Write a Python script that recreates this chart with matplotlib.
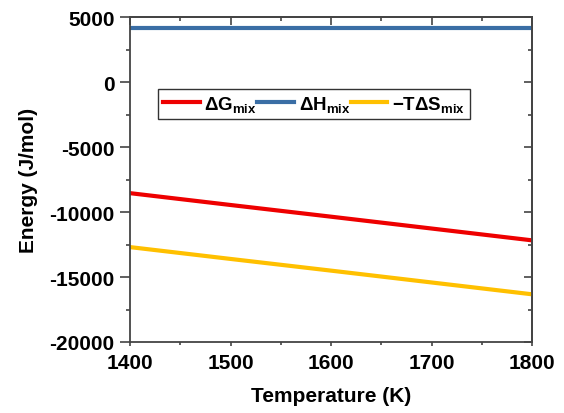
import matplotlib
matplotlib.use("Agg")
import matplotlib.pyplot as plt
from matplotlib.ticker import MultipleLocator, NullFormatter

plt.rcParams['font.family'] = ['Liberation Sans', 'DejaVu Sans']
plt.rcParams['font.weight'] = 'bold'
plt.rcParams['axes.unicode_minus'] = False
plt.rcParams['mathtext.fontset'] = 'custom'
plt.rcParams['mathtext.rm'] = 'Liberation Sans:bold'
plt.rcParams['mathtext.it'] = 'Liberation Sans:bold'
plt.rcParams['mathtext.bf'] = 'Liberation Sans:bold'

# temperature (K)
temps = [1400, 1500, 1600, 1700, 1800]
# energies (J/mol)
dG_mix = [-8550, -9460, -10360, -11270, -12180]
dH_mix = [4150, 4150, 4150, 4150, 4150]
TdS_mix = [-12700, -13610, -14510, -15420, -16330]

spine_col = '#444444'

fig = plt.figure(figsize=(5.64, 4.14), dpi=100)
ax = fig.add_axes([0.2305, 0.1715, 0.7128, 0.785])

ax.plot(temps, dG_mix, color='#ee0000', lw=3, label=r'ΔG$_{\mathrm{mix}}$')
ax.plot(temps, dH_mix, color='#3a6ea5', lw=3, label=r'ΔH$_{\mathrm{mix}}$')
ax.plot(temps, TdS_mix, color='#ffc000', lw=3, label=r'−TΔS$_{\mathrm{mix}}$')

ax.set_xlim(1400, 1800)
ax.set_ylim(-20000, 5000)
ax.xaxis.set_major_locator(MultipleLocator(100))
ax.xaxis.set_minor_locator(MultipleLocator(50))
ax.yaxis.set_major_locator(MultipleLocator(5000))
ax.yaxis.set_minor_locator(MultipleLocator(2500))

# bottom / left ticks point outward
ax.tick_params(axis='x', which='major', direction='out', length=3, width=1.2,
               color=spine_col, labelsize=15, pad=5)
ax.tick_params(axis='x', which='minor', direction='out', length=2, width=1.2, color=spine_col)
ax.tick_params(axis='y', which='major', direction='out', length=7, width=1.2,
               color=spine_col, labelsize=15, pad=4)
ax.tick_params(axis='y', which='minor', direction='out', length=3, width=1.2, color=spine_col)

# top / right ticks point inward
top = ax.secondary_xaxis('top')
top.xaxis.set_major_locator(MultipleLocator(100))
top.xaxis.set_minor_locator(MultipleLocator(50))
top.xaxis.set_major_formatter(NullFormatter())
top.tick_params(which='major', direction='in', length=6, width=1.2, color=spine_col)
top.tick_params(which='minor', direction='in', length=3, width=1.2, color=spine_col)
right = ax.secondary_yaxis('right')
right.yaxis.set_major_locator(MultipleLocator(5000))
right.yaxis.set_minor_locator(MultipleLocator(2500))
right.yaxis.set_major_formatter(NullFormatter())
right.tick_params(which='major', direction='in', length=6, width=1.2, color=spine_col)
right.tick_params(which='minor', direction='in', length=3, width=1.2, color=spine_col)
for a in (ax, top, right):
    for s in a.spines.values():
        s.set_linewidth(1.3)
        s.set_color(spine_col)

ax.set_xlabel('Temperature (K)', fontsize=15, fontweight='bold', labelpad=10)
ax.set_ylabel('Energy (J/mol)', fontsize=15, fontweight='bold', labelpad=8)

leg = ax.legend(loc='upper left', bbox_to_anchor=(0.07, 0.778), ncol=3,
                frameon=True, fancybox=False, edgecolor='black', handlelength=1.97,
                handletextpad=0.25, columnspacing=0.0, borderpad=0.25,
                borderaxespad=0.0, prop={'weight': 'bold', 'size': 13.5})
leg.get_frame().set_linewidth(1)

fig.savefig('out.png', dpi=100)
